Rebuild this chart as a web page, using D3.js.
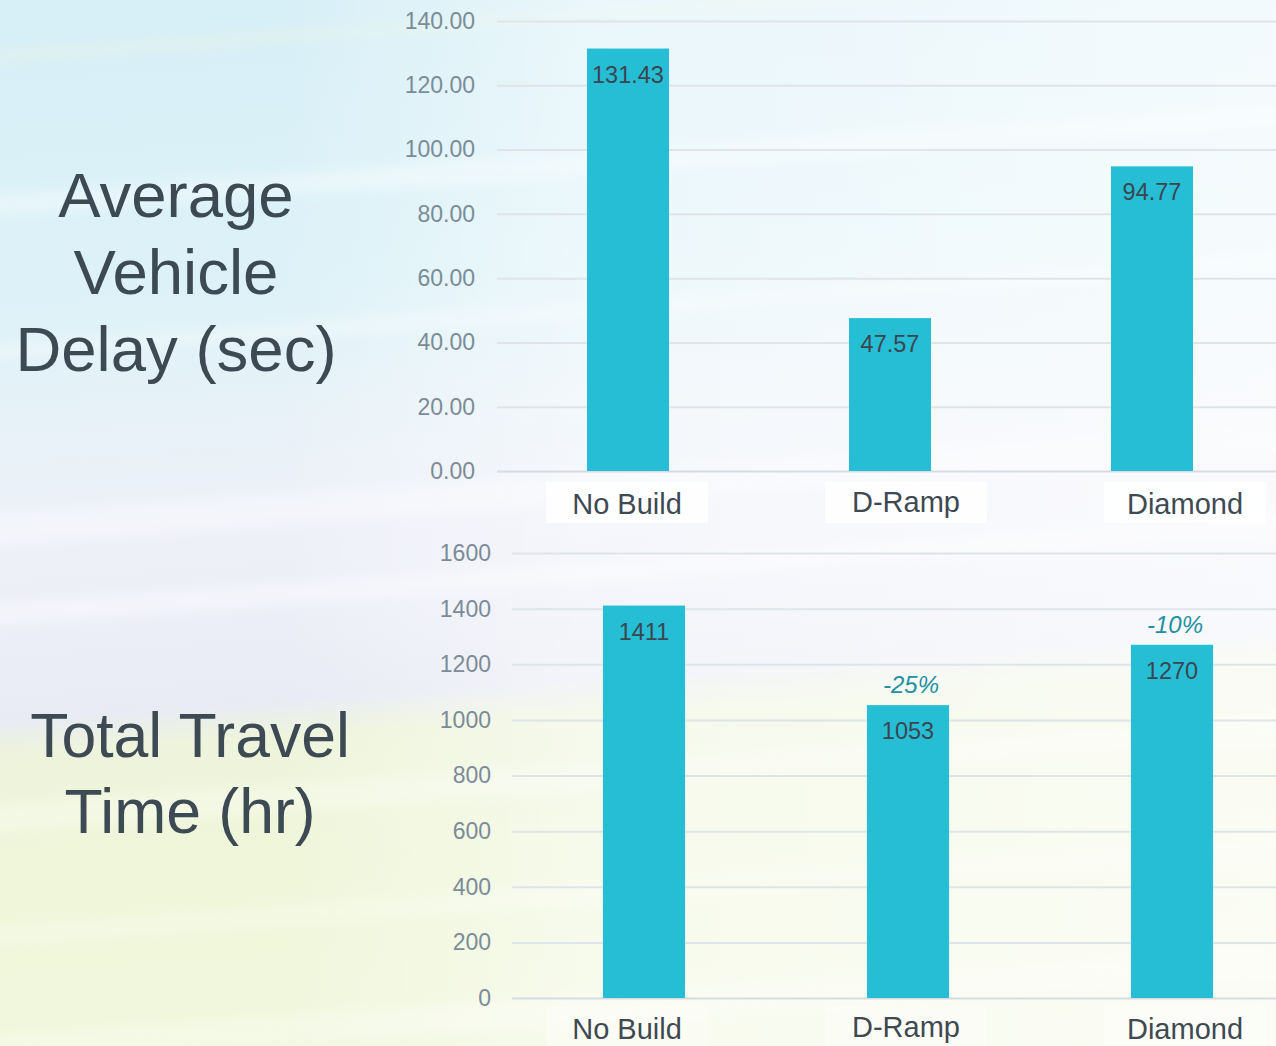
<!DOCTYPE html>
<html>
<head>
<meta charset="utf-8">
<script src="https://cdn.jsdelivr.net/npm/d3@7"></script>
<style>
  html, body { margin: 0; padding: 0; overflow: hidden; background: #eef4f8; }
  svg { display: block; font-family: "Liberation Sans", Arial, Helvetica, sans-serif; }
</style>
</head>
<body>
<svg id="chart" width="1276" height="1046"></svg>
<script>
// ---- data ----
const categories = ["No Build", "D-Ramp", "Diamond"];
const delayValues = [131.43, 47.57, 94.77];
const delayTicks = [0, 20, 40, 60, 80, 100, 120, 140];
const travelValues = [1411, 1053, 1270];
const travelTicks = [0, 200, 400, 600, 800, 1000, 1200, 1400, 1600];
const travelChange = ["", "-25%", "-10%"];
const delayTitle = ["Average", "Vehicle", "Delay (sec)"];
const travelTitle = ["Total Travel", "Time (hr)"];

const W = 1276, H = 1046;
const svg = d3.select("#chart");
const defs = svg.append("defs");

// ---- soft painted backdrop ----
const vg = defs.append("linearGradient").attr("id", "bgV")
  .attr("gradientUnits", "userSpaceOnUse").attr("x1", 0).attr("y1", 0).attr("x2", 0).attr("y2", H);
[[0, "#d7eff7"], [0.25, "#ddf2f8"], [0.38, "#e8f2f8"], [0.48, "#eef0f8"],
 [0.56, "#edeff8"], [0.645, "#e8ebf4"], [0.68, "#eef4dc"], [0.8, "#eff6d9"], [1, "#f1f7dd"]]
  .forEach(([o, c]) => vg.append("stop").attr("offset", o).attr("stop-color", c));

const hg = defs.append("linearGradient").attr("id", "bgH")
  .attr("gradientUnits", "userSpaceOnUse").attr("x1", 280).attr("y1", 0).attr("x2", W).attr("y2", 0);
hg.append("stop").attr("offset", 0).attr("stop-color", "#ffffff").attr("stop-opacity", 0);
hg.append("stop").attr("offset", 0.3).attr("stop-color", "#ffffff").attr("stop-opacity", 0.45);
hg.append("stop").attr("offset", 1).attr("stop-color", "#ffffff").attr("stop-opacity", 0.7);

defs.append("filter").attr("id", "soft").attr("x", "-20%").attr("y", "-200%")
  .attr("width", "140%").attr("height", "500%")
  .append("feGaussianBlur").attr("stdDeviation", 6);

const bg = svg.append("g").attr("transform", `rotate(-4 ${W / 2} ${H / 2})`);
bg.append("rect").attr("x", -200).attr("y", -150).attr("width", W + 400).attr("height", H + 300)
  .attr("fill", "url(#bgV)");
// light streaks running across the backdrop
const streaks = [
  { y: 8, h: 10, o: 0.35, c: "#eef6dc" },
  { y: 150, h: 22, o: 0.35, c: "#ffffff" },
  { y: 300, h: 14, o: 0.3, c: "#ffffff" },
  { y: 470, h: 30, o: 0.35, c: "#ffffff" },
  { y: 560, h: 18, o: 0.4, c: "#ffffff" },
  { y: 760, h: 26, o: 0.3, c: "#ffffff" },
  { y: 880, h: 20, o: 0.25, c: "#ffffff" },
  { y: 990, h: 30, o: 0.3, c: "#ffffff" }
];
bg.selectAll("rect.streak").data(streaks).join("rect").attr("class", "streak")
  .attr("x", -200).attr("width", W + 400)
  .attr("y", d => d.y).attr("height", d => d.h)
  .attr("fill", d => d.c).attr("opacity", d => d.o).attr("filter", "url(#soft)");
svg.append("rect").attr("width", W).attr("height", H).attr("fill", "url(#bgH)");

// ---- shared styles ----
const barColor = "#26bed5";
const gridColor = "#dfe4e8";
const tickColor = "#7b8c98";
const textDark = "#3d4a54";

// category label positions (text boxes under each chart)
const labelX = d3.scalePoint().domain(categories).range([627, 1185]);

function drawChart(cfg) {
  const g = svg.append("g");
  const y = d3.scaleLinear().domain([0, cfg.max]).range([cfg.bottom, cfg.top]);
  const x = d3.scaleBand().domain(categories).range(cfg.xRange)
    .paddingInner(cfg.pad).paddingOuter(cfg.pad / 2);

  // gridlines + tick labels through a left axis
  const axis = d3.axisLeft(y).tickValues(cfg.ticks).tickFormat(cfg.fmt)
    .tickSize(-(W - cfg.xRange[0])).tickPadding(cfg.tickPad);
  const ag = g.append("g").attr("transform", `translate(${cfg.xRange[0]},0)`).call(axis);
  ag.select(".domain").remove();
  ag.selectAll(".tick line").attr("stroke", gridColor).attr("stroke-width", 2);
  ag.selectAll(".tick text").attr("fill", tickColor).attr("font-size", 23)
    .attr("font-family", '"Liberation Sans", Arial, sans-serif');
  ag.selectAll(".tick").filter(d => d === 0).select("line").attr("stroke", "#d6dce1");

  // label boxes
  g.selectAll("rect.lbox").data(categories).join("rect").attr("class", "lbox")
    .attr("x", d => labelX(d) - 81).attr("y", cfg.labelBase - 32)
    .attr("width", 162).attr("height", 41)
    .attr("fill", "#ffffff").attr("opacity", cfg.boxOpacity);

  // bars
  g.selectAll("rect.bar").data(cfg.values).join("rect").attr("class", "bar")
    .attr("x", (d, i) => x(categories[i])).attr("width", x.bandwidth())
    .attr("y", d => y(d)).attr("height", d => y(0) - y(d))
    .attr("fill", barColor);

  // value labels inside bars
  g.selectAll("text.val").data(cfg.values).join("text").attr("class", "val")
    .attr("x", (d, i) => x(categories[i]) + x.bandwidth() / 2)
    .attr("y", d => y(d) + 34)
    .attr("text-anchor", "middle").attr("font-size", 23.5).attr("fill", "#3b4650")
    .text(cfg.valFmt);

  // category labels
  g.selectAll("text.cat").data(categories).join("text").attr("class", "cat")
    .attr("x", d => labelX(d)).attr("y", (d, i) => cfg.labelBase - (i === 1 ? 2 : 0))
    .attr("text-anchor", "middle").attr("font-size", 29).attr("fill", "#3e4952")
    .text(d => d);

  return { x, y, g };
}

drawChart({
  max: 140, top: 21, bottom: 471, xRange: [497, 1283], pad: 0.687,
  ticks: delayTicks, fmt: d3.format(".2f"), tickPad: 22,
  values: delayValues, valFmt: d => d3.format(".2f")(d),
  labelBase: 514, boxOpacity: 0.85
});

const travel = drawChart({
  max: 1600, top: 553, bottom: 998, xRange: [512, 1304], pad: 0.689,
  ticks: travelTicks, fmt: d3.format("d"), tickPad: 21,
  values: travelValues, valFmt: d => d3.format("d")(d),
  labelBase: 1039, boxOpacity: 0.35
});

// percent change above the build alternatives
travel.g.selectAll("text.chg").data(travelValues).join("text").attr("class", "chg")
  .attr("x", (d, i) => travel.x(categories[i]) + travel.x.bandwidth() / 2 + 3)
  .attr("y", d => travel.y(d) - 12)
  .attr("text-anchor", "middle").attr("font-size", 24).attr("font-style", "italic")
  .attr("fill", "#2290a2")
  .text((d, i) => travelChange[i]);

// left-hand titles
function drawTitle(lines, cx, firstBase, step, size) {
  svg.append("text").attr("text-anchor", "middle").attr("font-size", size).attr("fill", textDark)
    .selectAll("tspan").data(lines).join("tspan")
    .attr("x", cx).attr("y", (d, i) => firstBase + i * step).text(d => d);
}
drawTitle(delayTitle, 176, 217, 77, 63.5);
drawTitle(travelTitle, 190, 757, 76, 62.5);
</script>
</body>
</html>
